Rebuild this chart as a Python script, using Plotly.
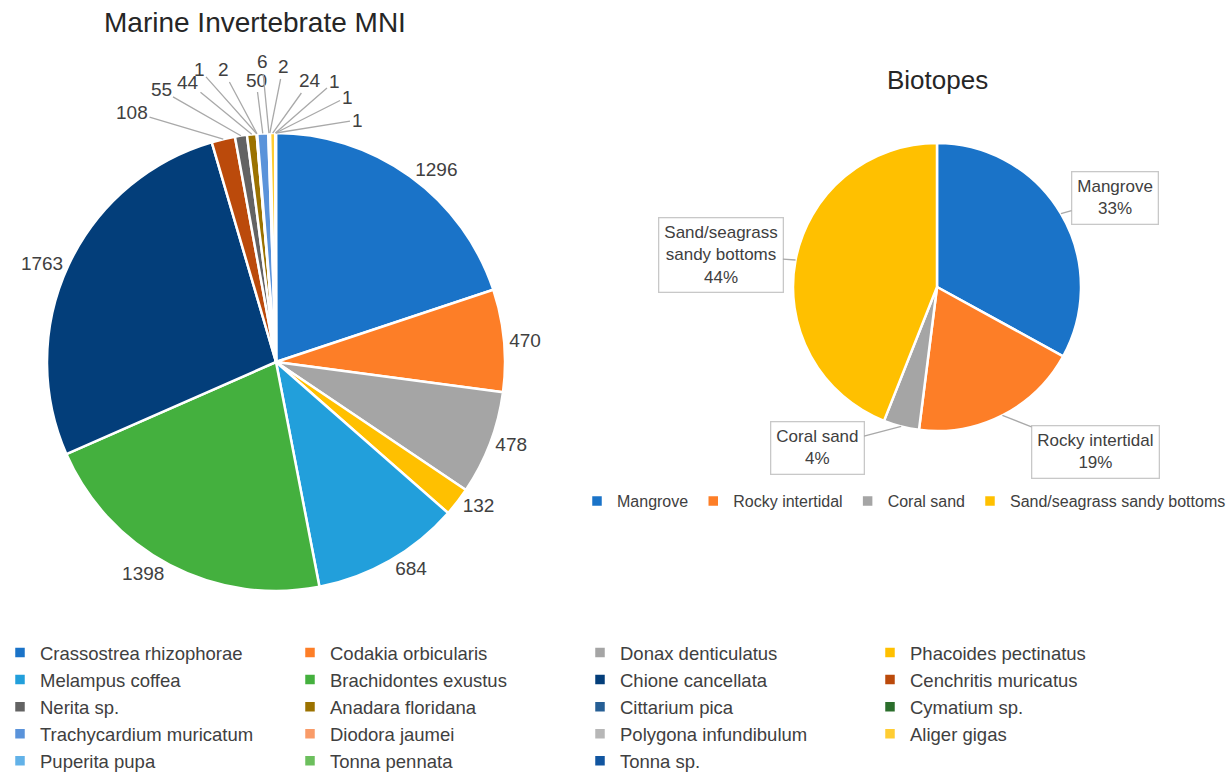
import math
import plotly.graph_objects as go

species = [
    "Crassostrea rhizophorae", "Codakia orbicularis", "Donax denticulatus", "Phacoides pectinatus",
    "Melampus coffea", "Brachidontes exustus", "Chione cancellata", "Cenchritis muricatus",
    "Nerita sp.", "Anadara floridana", "Cittarium pica", "Cymatium sp.",
    "Trachycardium muricatum", "Diodora jaumei", "Polygona infundibulum", "Aliger gigas",
    "Puperita pupa", "Tonna pennata", "Tonna sp.",
]
mni = [1296, 470, 478, 132, 684, 1398, 1763, 108, 55, 44, 1, 2, 50, 6, 2, 24, 1, 1, 1]
species_colors = [
    "#1a73c8", "#fd7e27", "#a5a5a5", "#ffc000", "#229fdb", "#44b03e", "#033e7a", "#bb4a0b",
    "#636363", "#9b7200", "#265f95", "#2b6e2c", "#5a93da", "#f99b68", "#b7b7b7", "#ffcd33",
    "#62b2e8", "#6cbf5d", "#1155a0",
]

biotopes = ["Mangrove", "Rocky intertidal", "Coral sand", "Sand/seagrass sandy bottoms"]
biotope_labels = ["Mangrove", "Rocky intertidal", "Coral sand", "Sand/seagrass<br>sandy bottoms"]
biotope_pct = [33, 19, 4, 44]
biotope_colors = ["#1a73c8", "#fd7e27", "#a5a5a5", "#ffc000"]

W, H = 1231, 773
FONT = "Liberation Sans"
TXT = "#404040"
LINE = "#a9a9a9"

# pie placement in pixels: centre x, centre y, radius
LPIE = (276, 362, 229)
RPIE = (937, 287, 144)


def domain(p):
    cx, cy, r = p
    return dict(x=[(cx - r) / W, (cx + r) / W], y=[1 - (cy + r) / H, 1 - (cy - r) / H])


def heads(p, vals):
    # point on the rim at the middle angle of each slice (clockwise from 12 o'clock)
    cx, cy, r = p
    tot = sum(vals)
    out, cum = [], 0
    for v in vals:
        a = (cum + v / 2) / tot * 2 * math.pi
        cum += v
        out.append((cx + r * math.sin(a), cy - r * math.cos(a)))
    return out


SMALL = 120  # slices below this get called-out labels
# where the called-out labels sit (pixels), in slice order
small_label_px = [(132, 112), (161, 90), (188, 82), (199, 69), (223, 70), (256, 80),
                  (262, 62), (283, 67), (310, 81), (334, 82), (347, 97), (357, 120)]

fig = go.Figure()

fig.add_trace(go.Pie(
    labels=species, values=mni, sort=False, direction="clockwise", rotation=0,
    marker=dict(colors=species_colors, line=dict(color="white", width=2.5)),
    textinfo="value", textposition=["outside" if v >= SMALL else "none" for v in mni],
    outsidetextfont=dict(size=19, color=TXT, family=FONT),
    domain=domain(LPIE), legend="legend", hoverinfo="label+value",
))

fig.add_trace(go.Pie(
    labels=biotopes, values=biotope_pct, sort=False, direction="clockwise", rotation=0,
    marker=dict(colors=biotope_colors, line=dict(color="white", width=2.5)),
    textinfo="none", domain=domain(RPIE), legend="legend2", hoverinfo="label+percent",
))

annotations = []

# called-out values for the thin slices
small_idx = [i for i, v in enumerate(mni) if v < SMALL]
lh = heads(LPIE, mni)
for i, (lx, ly) in zip(small_idx, small_label_px):
    hx, hy = lh[i]
    annotations.append(dict(
        x=hx / W, y=1 - hy / H, xref="paper", yref="paper", ax=lx - hx, ay=ly - hy,
        text=str(mni[i]), showarrow=True, arrowhead=0, arrowwidth=1.3, arrowcolor=LINE,
        font=dict(size=19, color=TXT, family=FONT),
    ))

# boxed callouts for the biotope pie
offsets = [(54, -16), (93, 37), (-84, 22), (-75, -5)]
total = sum(biotope_pct)
for (hx, hy), lab, v, (ax, ay) in zip(heads(RPIE, biotope_pct), biotope_labels, biotope_pct, offsets):
    annotations.append(dict(
        x=hx / W, y=1 - hy / H, xref="paper", yref="paper", ax=ax, ay=ay,
        text=f"{lab}<br>{round(v / total * 100)}%", showarrow=True, arrowhead=0,
        arrowwidth=1.3, arrowcolor=LINE, bordercolor="#c8c8c8", borderwidth=1.3,
        borderpad=5, bgcolor="white", font=dict(size=17, color=TXT, family=FONT),
    ))

annotations.append(dict(
    x=255 / W, y=1 - 22 / H, xref="paper", yref="paper", showarrow=False,
    xanchor="center", yanchor="middle",
    text="Marine Invertebrate MNI", font=dict(size=28, color="#262626", family=FONT),
))
annotations.append(dict(
    x=937 / W, y=1 - 80 / H, xref="paper", yref="paper", showarrow=False,
    xanchor="center", yanchor="middle",
    text="Biotopes", font=dict(size=26, color="#262626", family=FONT),
))

fig.update_layout(
    width=W, height=H,
    margin=dict(l=0, r=0, t=0, b=0, autoexpand=False),
    paper_bgcolor="white", plot_bgcolor="white",
    font=dict(family=FONT, color=TXT),
    annotations=annotations,
    legend=dict(
        orientation="h", x=0.0, xanchor="left", y=1 - 634 / H, yanchor="top",
        entrywidth=245, entrywidthmode="pixels", font=dict(size=18.5, color=TXT),
        itemwidth=30, traceorder="normal",
    ),
    legend2=dict(
        orientation="h", x=1.0, xanchor="right", y=1 - 484 / H, yanchor="top",
        font=dict(size=16, color=TXT), itemwidth=30,
    ),
)

fig.write_html("out.html", config={"displayModeBar": False},
               post_script="document.body.style.margin='0';")
